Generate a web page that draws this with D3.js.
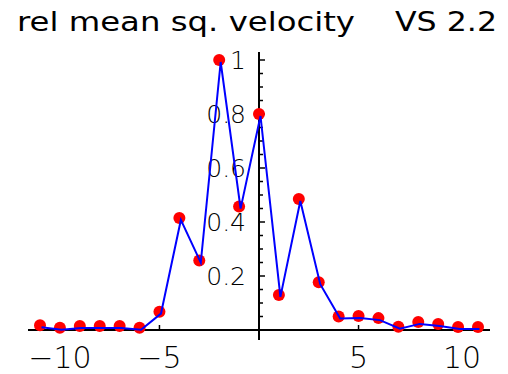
<html>
  <head>
    <meta charset='utf-8'>
    <script src='https://d3js.org/d3.v7.min.js'></script>
    <style>
      body { margin: 0; background: #fff; }
      text { font-family: 'DejaVu Sans', sans-serif; font-weight: 200; fill: #000; }
      text.title { font-weight: 400; }
    </style>
  </head>
  <body>
    <div id='chart'></div>
    <script>
        // values
        var xs = [-11, -10, -9, -8, -7, -6, -5, -4, -3, -2, -1, 0, 1, 2, 3, 4, 5, 6, 7, 8, 9, 10, 11];
        var vals = [0.018, 0.008, 0.015, 0.015, 0.015, 0.008, 0.068, 0.415, 0.257, 1.0, 0.457, 0.80,
                    0.13, 0.485, 0.177, 0.05, 0.052, 0.044, 0.012, 0.03, 0.022, 0.011, 0.011];
        var xTickVals = [-10, -5, 5, 10];
        var yTickVals = [0.2, 0.4, 0.6, 0.8, 1];
        var titleText = 'rel mean sq. velocity';
        var versionText = 'VS 2.2';

        var W = 508, H = 374;
        var svg = d3.select('#chart').append('svg')
                    .attr('width', W)
                    .attr('height', H);

        var x = d3.scaleLinear().domain([-11, 11]).range([40, 478]);
        var y = d3.scaleLinear().domain([0, 1]).range([330, 60]);

        // title
        svg.append('text')
           .attr('class', 'title')
           .attr('x', 17).attr('y', 31)
           .attr('font-size', 26)
           .attr('textLength', 338)
           .attr('lengthAdjust', 'spacingAndGlyphs')
           .text(titleText);
        svg.append('text')
           .attr('class', 'title')
           .attr('x', 395).attr('y', 31)
           .attr('font-size', 26)
           .attr('textLength', 102)
           .attr('lengthAdjust', 'spacingAndGlyphs')
           .text(versionText);

        // axes
        var axis_g = svg.append('g').attr('stroke', '#000');
        axis_g.append('line')
              .attr('x1', 28).attr('x2', 490)
              .attr('y1', y(0)).attr('y2', y(0))
              .attr('stroke-width', 2);
        axis_g.append('line')
              .attr('x1', x(0)).attr('x2', x(0))
              .attr('y1', 52).attr('y2', 340)
              .attr('stroke-width', 2);

        // y ticks every 0.05 on the right side of the axis
        var minor = d3.range(1, 21).map(function(i) { return i * 0.05; });
        axis_g.selectAll('.ytick')
              .data(minor)
              .enter().append('line')
              .attr('class', 'ytick')
              .attr('x1', x(0)).attr('x2', function(d, i) { return x(0) + ((i + 1) % 4 == 0 ? 6 : 4); })
              .attr('y1', function(d) { return y(d); })
              .attr('y2', function(d) { return y(d); })
              .attr('stroke-width', 1.5);

        axis_g.selectAll('.xtick')
              .data(xTickVals)
              .enter().append('line')
              .attr('class', 'xtick')
              .attr('x1', function(d) { return x(d); })
              .attr('x2', function(d) { return x(d); })
              .attr('y1', y(0)).attr('y2', y(0) - 5)
              .attr('stroke-width', 1.5);

        svg.selectAll('.xlab')
           .data(xTickVals)
           .enter().append('text')
           .attr('class', 'xlab')
           .attr('x', function(d) { return x(d) + (d == 10 ? 4 : 0); })
           .attr('y', 368)
           .attr('font-size', 30)
           .attr('text-anchor', 'middle')
           .text(function(d) { return d < 0 ? '\u2212' + (-d) : d; });

        svg.selectAll('.ylab')
           .data(yTickVals)
           .enter().append('text')
           .attr('class', 'ylab')
           .attr('x', 246)
           .attr('y', function(d) { return y(d) + 9; })
           .attr('font-size', 25)
           .attr('text-anchor', 'end')
           .text(function(d) { return d == 1 ? '1' : d3.format('.1f')(d); });

        var pts = xs.map(function(d, i) { return [d, vals[i]]; });

        // dots
        svg.selectAll('.dot')
           .data(pts)
           .enter().append('circle')
           .attr('class', 'dot')
           .attr('cx', function(d) { return x(d[0]); })
           .attr('cy', function(d) { return y(d[1]); })
           .attr('r', 6)
           .attr('fill', '#ff0000');

        // line, drawn a little offset from the dots as in the original
        var line = d3.line()
                     .x(function(d) { return x(d[0]); })
                     .y(function(d) { return y(d[1]); });
        svg.append('path')
           .datum(pts)
           .attr('d', line)
           .attr('transform', 'translate(1.5,2)')
           .attr('fill', 'none')
           .attr('stroke', '#0000ff')
           .attr('stroke-width', 2);
    </script>
  </body>
</html>
